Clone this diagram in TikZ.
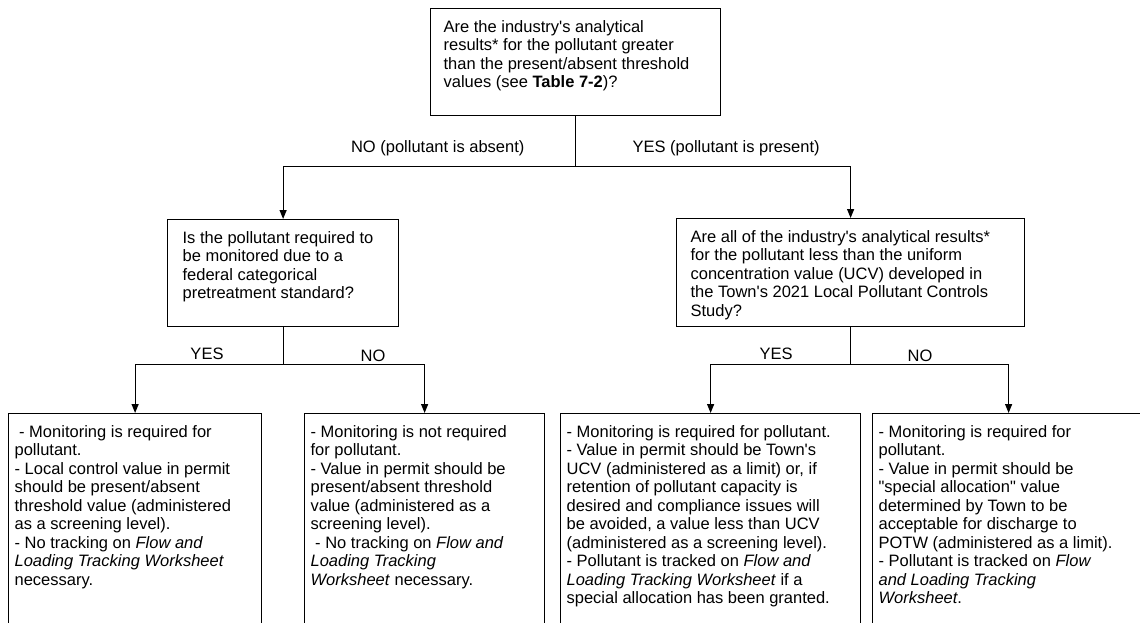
\documentclass[tikz,border=0pt]{standalone}
\usepackage{fontspec}
\setmainfont{Liberation Sans}[Ligatures=TeXOff]
\usetikzlibrary{arrows.meta}
\newcommand{\boxtext}[3]{\parbox[t][#1][t]{#2}{\raggedright #3}}

\begin{document}
\begin{tikzpicture}[x=1pt,y=-1pt,line width=1.2pt,
>={Triangle[length=9pt,width=7pt]},
every node/.style={font=\fontsize{16.5}{18.5}\selectfont},
qbox/.style={draw,anchor=north west,inner xsep=14pt,inner ysep=11.5pt},
abox/.style={draw,anchor=north west,inner xsep=6pt,inner ysep=11.5pt},
lbl/.style={inner sep=0pt}]
\useasboundingbox (0,0) rectangle (1140,623);
\clip (0,0) rectangle (1140,623);
% questions
\path
(430,8) node[qbox,inner xsep=13pt] (q1) {\boxtext{84pt}{264pt}{Are the industry's analytical\\ results* for the pollutant greater\\ than the present/absent threshold\\ values (see \textbf{Table 7-2})?}}
(167,219) node[qbox,inner xsep=15pt] (q2) {\boxtext{84pt}{201pt}{Is the pollutant required to\\ be monitored due to a\\ federal categorical\\ pretreatment standard?}}
(676,218) node[qbox] (q3) {\boxtext{85pt}{320pt}{Are all of the industry's analytical results*\\ for the pollutant less than the uniform\\ concentration value (UCV) developed in\\ the Town's 2021 Local Pollutant Controls\\ Study?}};
% answers
\path
(8,413) node[abox] (a1) {\boxtext{207pt}{241pt}{\ - Monitoring is required for\\ pollutant.\\ - Local control value in permit\\ should be present/absent\\ threshold value (administered\\ as a screening level).\\ - No tracking on \textit{Flow and}\\ \textit{Loading Tracking Worksheet}\\ necessary.}}
(304,413) node[abox] (a2) {\boxtext{207pt}{228pt}{- Monitoring is not required\\ for pollutant.\\ - Value in permit should be\\ present/absent threshold\\ value (administered as a\\ screening level).\\ \ - No tracking on \textit{Flow and}\\ \textit{Loading Tracking}\\ \textit{Worksheet} necessary.}}
(560,413) node[abox] (a3) {\boxtext{207pt}{288pt}{- Monitoring is required for pollutant.\\ - Value in permit should be Town's\\ UCV (administered as a limit) or, if\\ retention of pollutant capacity is\\ desired and compliance issues will\\ be avoided, a value less than UCV\\ (administered as a screening level).\\ - Pollutant is tracked on \textit{Flow and}\\ \textit{Loading Tracking Worksheet} if a\\ special allocation has been granted.}}
(872,413) node[abox] (a4) {\boxtext{207pt}{260pt}{- Monitoring is required for\\ pollutant.\\ - Value in permit should be\\ "special allocation" value\\ determined by Town to be\\ acceptable for discharge to\\ POTW (administered as a limit).\\ - Pollutant is tracked on \textit{Flow}\\ \textit{and Loading Tracking}\\ \textit{Worksheet}.}};
% branch labels
\path
(525,153) node[lbl,anchor=base east] (no1) {NO (pollutant is absent)}
(632,153) node[lbl,anchor=base west] (yes1) {YES (pollutant is present)}
(207,359) node[lbl,anchor=base] (yes2) {YES}
(373,361) node[lbl,anchor=base] (no2) {NO}
(776,359) node[lbl,anchor=base] (yes3) {YES}
(920,361) node[lbl,anchor=base] (no3) {NO};
\draw (q1.south) -- ++(0,50) coordinate (j1);
\draw[->] (j1) -| (q2.north);
\draw[->] (j1) -| (q3.north);
\draw (q2.south) -- ++(0,37) coordinate (j2);
\draw[->] (j2) -| (a1.north);
\draw[->] (j2) -| (a2.north);
\draw (q3.south) -- ++(0,37) coordinate (j3);
\draw[->] (j3) -| (a3.north);
\draw[->] (j3) -| (a4.north);
\end{tikzpicture}
\end{document}
